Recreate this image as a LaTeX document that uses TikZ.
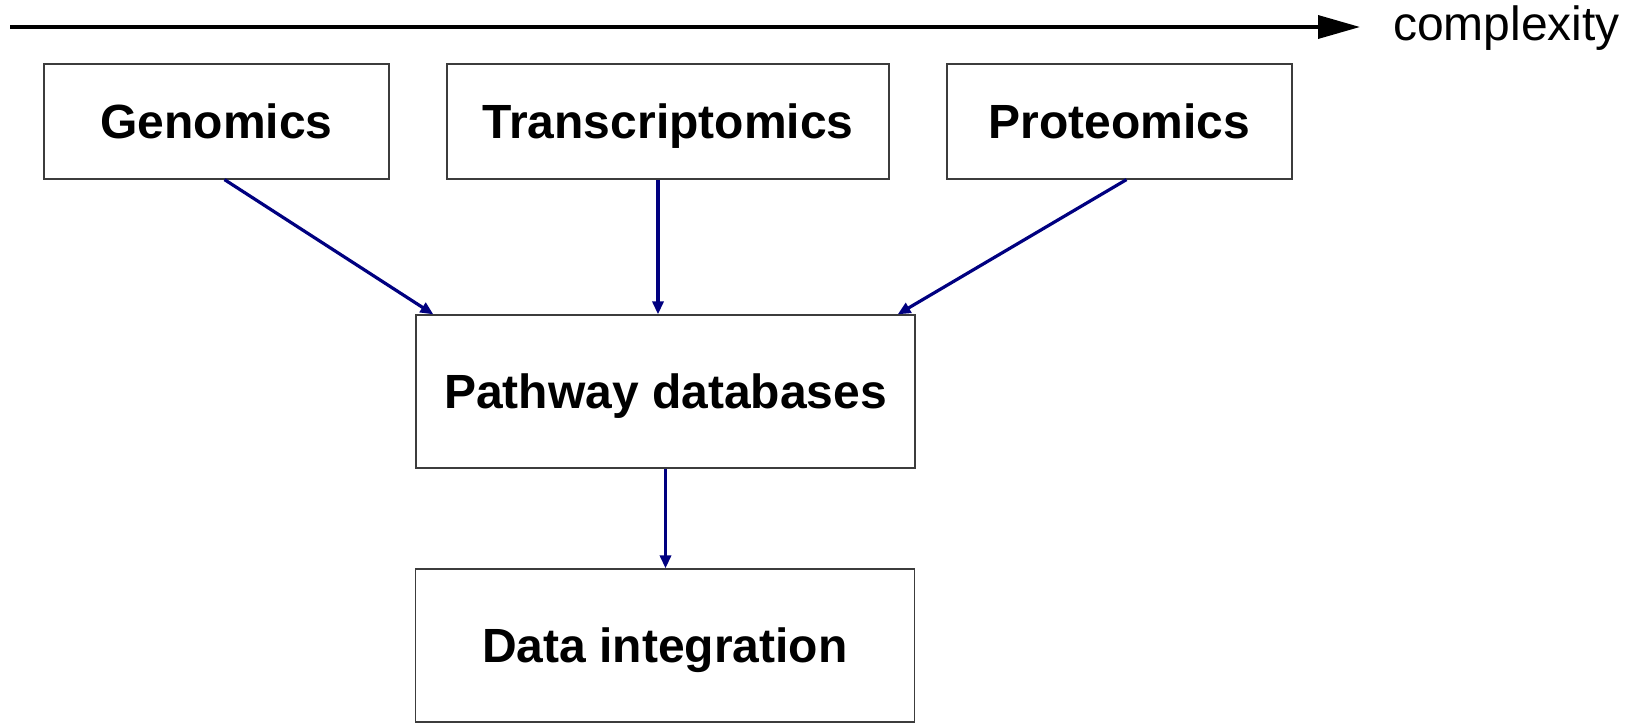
\documentclass[tikz,border=0pt]{standalone}
\usepackage{fontspec}
\setmainfont{Liberation Sans}
\usepackage{tikz}
\usetikzlibrary{arrows.meta}
\definecolor{flowblue}{RGB}{0,0,128}
\definecolor{boxgray}{RGB}{60,60,60}

\begin{document}
\begin{tikzpicture}[x=1pt,y=-1pt,
  omic/.style={draw=boxgray,line width=1.2pt,inner sep=0pt,minimum height=115pt,text height=34pt,text depth=0pt,font=\fontsize{48}{57}\selectfont\bfseries},
  stage/.style={omic,minimum width=499pt,minimum height=153pt},
  flow/.style={flowblue,line width=3.2pt,-{Triangle[length=13pt,width=11pt]}}]
\useasboundingbox(0,0)rectangle(1631,723);
\coordinate(cstart)at(10,27);\coordinate(cend)at(1360,27);
\draw[line width=3.5pt,-{Triangle[length=42pt,width=23pt]}](cstart)--(cend);
\node[anchor=base west,inner sep=0pt,font=\fontsize{48}{57}\selectfont](cplx)at(1393,40){complexity};
% omics layers
\node[omic,minimum width=345pt](gen)at(216.5,121.5){Genomics};
\node[omic,minimum width=442pt](tra)at(668,121.5){Transcriptomics};
\node[omic,minimum width=345pt](pro)at(1119.5,121.5){Proteomics};
% pathway level
\node[stage](pdb)at(665.5,391.5){Pathway databases};
\node[stage](dint)at(665,645.5){Data integration};
\draw[flow]([xshift=8pt]gen.south)--([xshift=18pt]pdb.north west);
\draw[flow]([xshift=-10pt]tra.south)--([xshift=-7.5pt]pdb.north);
\draw[flow]([xshift=7pt]pro.south)--([xshift=-18pt]pdb.north east);
\draw[flow](pdb.south)--(pdb.south|-dint.north);
\end{tikzpicture}
\end{document}
